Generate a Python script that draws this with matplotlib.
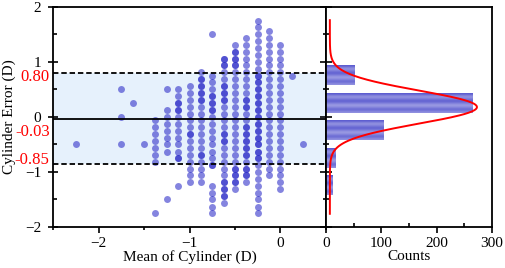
import numpy as np
import matplotlib
matplotlib.use('Agg')
import matplotlib.pyplot as plt
import matplotlib.transforms as mtransforms
from matplotlib.colors import LinearSegmentedColormap
from matplotlib.ticker import MultipleLocator

plt.rcParams['font.family'] = ['Liberation Serif', 'DejaVu Serif']
plt.rcParams['font.size'] = 11

# scatter data: x position of each column and the y values read in that column
# (repeated values = darker, overlapping points)
col_x = [-2.25, -1.75, -1.625, -1.5, -1.375, -1.25, -1.125, -1.0, -0.875,
         -0.75, -0.625, -0.5, -0.375, -0.25, -0.125, 0.0, 0.125, 0.25]
col_y = [
    [-0.5],
    [0.5, 0.0, -0.5],
    [0.25],
    [-0.5],
    [-0.06, -0.19, -0.31, -0.44, -0.56, -0.69, -0.81, -1.75],
    [0.5, 0.13, 0.0, -0.13, -0.25, -0.38, -0.5, -0.63, -1.5],
    [0.5, 0.38, 0.25, 0.25, 0.13, 0.13, 0.0, -0.13, -0.25, -0.38, -0.5,
     -0.63, -0.75, -0.75, -1.25],
    [0.56, 0.44, 0.31, 0.19, 0.06, -0.06, -0.19, -0.31, -0.31, -0.44, -0.56,
     -0.69, -0.81, -0.94, -1.06, -1.19],
    [0.81, 0.69, 0.69, 0.56, 0.56, 0.44, 0.44, 0.31, 0.31, 0.19, 0.06, -0.06,
     -0.19, -0.31, -0.44, -0.56, -0.69, -0.69, -0.81, -0.94, -1.06, -1.19],
    [1.5, 0.75, 0.63, 0.5, 0.38, 0.38, 0.25, 0.25, 0.13, 0.13, 0.0, -0.13,
     -0.25, -0.38, -0.5, -0.63, -0.75, -0.88, -0.88, -1.25, -1.38, -1.5,
     -1.63, -1.75],
    [1.06, 1.06, 0.94, 0.94, 0.81, 0.69, 0.56, 0.56, 0.44, 0.44, 0.31, 0.31,
     0.19, 0.06, -0.06, -0.19, -0.31, -0.31, -0.44, -0.44, -0.56, -0.69,
     -0.81, -0.94, -1.06, -1.19, -1.19, -1.31, -1.31, -1.44, -1.44, -1.56],
    [1.31, 1.19, 1.19, 1.06, 1.06, 0.94, 0.94, 0.81, 0.69, 0.56, 0.44, 0.31,
     0.19, 0.06, -0.06, -0.19, -0.31, -0.44, -0.56, -0.69, -0.81, -0.94,
     -0.94, -1.06, -1.06, -1.19, -1.19, -1.31],
    [1.44, 1.31, 1.19, 1.06, 0.94, 0.81, 0.69, 0.56, 0.44, 0.31, 0.31, 0.19,
     0.19, 0.06, -0.06, -0.19, -0.19, -0.31, -0.31, -0.44, -0.44, -0.56,
     -0.56, -0.69, -0.69, -0.81, -0.94, -0.94, -1.06, -1.06, -1.19],
    [1.75, 1.63, 1.5, 1.38, 1.25, 1.13, 1.0, 0.88, 0.75, 0.75, 0.63, 0.63,
     0.5, 0.5, 0.38, 0.38, 0.25, 0.25, 0.13, 0.13, 0.0, 0.0, -0.13, -0.13,
     -0.25, -0.25, -0.38, -0.38, -0.5, -0.5, -0.63, -0.63, -0.75, -0.75,
     -0.88, -1.0, -1.13, -1.25, -1.38, -1.5, -1.63, -1.75],
    [1.56, 1.44, 1.31, 1.19, 1.06, 0.94, 0.81, 0.69, 0.56, 0.44, 0.31, 0.19,
     0.06, -0.06, -0.19, -0.31, -0.44, -0.56, -0.69, -0.81, -0.94, -1.06],
    [1.31, 1.19, 1.06, 0.94, 0.81, 0.69, 0.56, 0.44, 0.31, 0.19, 0.06, -0.06,
     -0.19, -0.31, -0.44, -0.56, -0.69, -0.81, -0.94, -1.06, -1.19, -1.31],
    [0.75],
    [-0.5],
]

# Bland-Altman limits
mean_diff = -0.03
upper_loa = 0.80
lower_loa = -0.85
loa_labels = ['0.80', '-0.03', '-0.85']
loa_label_y = [0.72, -0.27, -0.79]   # where the red labels sit

# histogram of the error
hist_centers = [0.75, 0.25, -0.25, -0.75, -1.25]
hist_counts = [52, 265, 104, 17, 11]
bar_height = 0.35

# normal fit drawn over the histogram
fit_mu = 0.18
fit_sigma = 0.30
fit_amp = 266
fit_base = 7
fit_range = (-1.76, 1.76)

fig = plt.figure(figsize=(5.05, 2.68), dpi=100)
ax = fig.add_axes([0.105, 0.153, 0.5405, 0.821])
axh = fig.add_axes([0.6455, 0.153, 0.3285, 0.821])

# ---- left: scatter ----
ax.axhspan(lower_loa, upper_loa, color='#e6f1fc', lw=0, zorder=0)
xs = np.concatenate([[x] * len(ys) for x, ys in zip(col_x, col_y)])
ys = np.concatenate(col_y)
ax.scatter(xs, ys, s=25, color='#2c2cc8', alpha=0.58, linewidths=0, zorder=2)
ax.axhline(mean_diff, color='k', lw=1.3, zorder=3)
ax.axhline(upper_loa, color='k', lw=1.3, ls=(0, (3, 1.6)), zorder=3)
ax.axhline(lower_loa, color='k', lw=1.3, ls=(0, (3, 1.6)), zorder=3)

ax.set_xlim(-2.5, 0.5)
ax.set_ylim(-2, 2)
ax.xaxis.set_major_locator(MultipleLocator(1))
ax.xaxis.set_minor_locator(MultipleLocator(0.5))
ax.yaxis.set_major_locator(MultipleLocator(1))
ax.yaxis.set_minor_locator(MultipleLocator(0.5))
ax.tick_params(axis='x', which='major', direction='out', length=4, width=1.2)
ax.tick_params(axis='x', which='minor', direction='out', length=2.5, width=1.2)
ax.tick_params(axis='y', which='major', direction='inout', length=7, width=1.2, pad=5)
ax.tick_params(axis='y', which='minor', direction='in', length=3, width=1.2)
for s in ax.spines.values():
    s.set_linewidth(1.3)

trans = mtransforms.blended_transform_factory(ax.transAxes, ax.transData)
for yv, lab in zip(loa_label_y, loa_labels):
    ax.text(-0.012, yv, lab, color='red', fontsize=12,
            ha='right', va='center', transform=trans)

ax.set_xlabel('Mean of Cylinder (D)', labelpad=0)
ax.set_ylabel('Cylinder Error (D)')
ax.yaxis.set_label_coords(-0.135, 0.5)

# ---- right: histogram ----
grad_cmap = LinearSegmentedColormap.from_list('bar', ['#dcdcf6', '#3a3ac6'])
bar_profile = np.array([0.8, 0.4, 0.55, 0.8, 0.6, 0.35, 0.55, 0.75, 0.45])
for c, n in zip(hist_centers, hist_counts):
    axh.imshow(bar_profile[:, None], extent=[0, n, c - bar_height / 2, c + bar_height / 2],
               aspect='auto', cmap=grad_cmap, vmin=0, vmax=1,
               interpolation='bicubic', zorder=1)

yy = np.linspace(fit_range[0], fit_range[1], 300)
cnt = fit_base + fit_amp * np.exp(-(yy - fit_mu) ** 2 / (2 * fit_sigma ** 2))
axh.plot(cnt, yy, color='red', lw=1.4, zorder=3)

axh.set_xlim(0, 300)
axh.set_ylim(-2, 2)
axh.xaxis.set_major_locator(MultipleLocator(100))
axh.xaxis.set_minor_locator(MultipleLocator(50))
axh.yaxis.set_major_locator(MultipleLocator(1))
axh.yaxis.set_minor_locator(MultipleLocator(0.5))
axh.tick_params(axis='x', which='major', direction='out', length=4, width=1.2)
axh.tick_params(axis='x', which='minor', direction='in', length=3, width=1.2)
axh.tick_params(axis='y', which='major', direction='inout', length=8, width=1.2,
                labelleft=False)
axh.tick_params(axis='y', which='minor', direction='inout', length=5, width=1.2)
for s in axh.spines.values():
    s.set_linewidth(1.3)
axh.set_xlabel('Counts', labelpad=0)

fig.savefig('out.png', dpi=100)
